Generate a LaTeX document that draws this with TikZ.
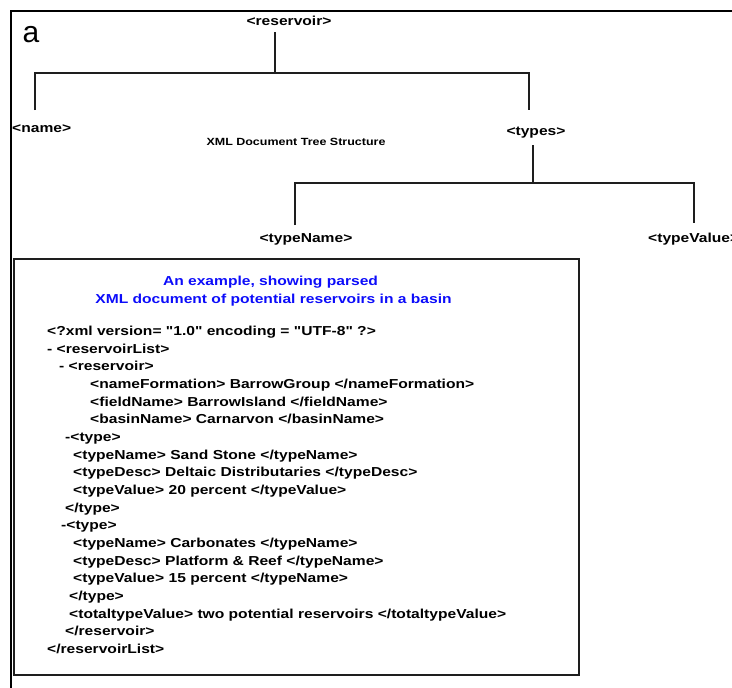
\documentclass[tikz,border=0pt]{standalone}
\usepackage{fontspec}
\setmainfont{Liberation Sans}
\newfontfamily\lab[FakeStretch=1.2]{Liberation Sans}
\definecolor{titleblue}{RGB}{12,12,250}
\definecolor{inkgray}{RGB}{30,30,30}
\begin{document}
\begin{tikzpicture}[x=1pt,y=-1pt,
  lbl/.style={font=\lab\bfseries\fontsize{13}{15}\selectfont, inner sep=0pt, text=black},
  small/.style={font=\lab\bfseries\fontsize{10.4}{12}\selectfont, inner sep=0pt},
  codeline/.style={lbl, anchor=base west},
  titleline/.style={lbl, anchor=base, text=titleblue},
  tree/.style={draw=inkgray, line width=1.1pt},
  frame/.style={draw=black, line width=2pt},
  panel/.style={draw=inkgray, line width=1.1pt}]
\useasboundingbox (0,0) rectangle (732,688);

% outer frame (left and top edges)
\draw[frame] (10.5,688) -- (10.5,11) -- (732,11);

% panel letter
\node[font=\fontsize{30}{32}\selectfont, inner sep=0pt, anchor=base] (panel) at (31,42) {a};

% tree labels
\node[lbl, anchor=base] (reservoir) at (289,25) {<reservoir>};
\node[lbl, anchor=base west] (name) at (12,132) {<name>};
\node[lbl, anchor=base] (types) at (536,135) {<types>};
\node[lbl, anchor=base] (typeName) at (306,242) {<typeName>};
\node[lbl, anchor=base west] (typeValue) at (648,242) {<typeValue>};
\node[small, anchor=base] (caption) at (296,145) {XML Document Tree Structure};

% tree connectors
\coordinate (resB) at (275,32);
\coordinate (bar1) at (275,73);
\coordinate (nameT) at (35,110);
\coordinate (typesT) at (529,110);
\draw[tree] (resB) -- (bar1);
\draw[tree] (nameT) |- (bar1) -| (typesT);

\coordinate (typesB) at (533,145);
\coordinate (bar2) at (533,183);
\coordinate (tnT) at (295,225);
\coordinate (tvT) at (694,223);
\draw[tree] (typesB) -- (bar2);
\draw[tree] (tnT) |- (bar2) -| (tvT);

% example panel
\draw[panel] (14,259) rectangle (579,675);
\node[titleline] (t1) at (270.5,285) {An example, showing parsed};
\node[titleline] (t2) at (273.5,303) {XML document of potential reservoirs in a basin};

\node[codeline] (c1)  at (47,335.5) {<?xml version= "1.0" encoding = "UTF-8" ?>};
\node[codeline] (c2)  at (47,353.2) {- <reservoirList>};
\node[codeline] (c3)  at (59,370.8) {- <reservoir>};
\node[codeline] (c4)  at (90,388.5) {<nameFormation> BarrowGroup </nameFormation>};
\node[codeline] (c5)  at (90,406.2) {<fieldName> BarrowIsland </fieldName>};
\node[codeline] (c6)  at (90,423.9) {<basinName> Carnarvon </basinName>};
\node[codeline] (c7)  at (65,441.5) {-<type>};
\node[codeline] (c8)  at (73,459.2) {<typeName> Sand Stone </typeName>};
\node[codeline] (c9)  at (73,476.9) {<typeDesc> Deltaic Distributaries </typeDesc>};
\node[codeline] (c10) at (73,494.5) {<typeValue> 20 percent </typeValue>};
\node[codeline] (c11) at (65,512.2) {</type>};
\node[codeline] (c12) at (61,529.9) {-<type>};
\node[codeline] (c13) at (73,547.6) {<typeName> Carbonates </typeName>};
\node[codeline] (c14) at (73,565.2) {<typeDesc> Platform \& Reef </typeName>};
\node[codeline] (c15) at (73,582.9) {<typeValue> 15 percent </typeName>};
\node[codeline] (c16) at (69,600.6) {</type>};
\node[codeline] (c17) at (69,618.2) {<totaltypeValue> two potential reservoirs </totaltypeValue>};
\node[codeline] (c18) at (65,635.9) {</reservoir>};
\node[codeline] (c19) at (47,653.6) {</reservoirList>};
\end{tikzpicture}
\end{document}
